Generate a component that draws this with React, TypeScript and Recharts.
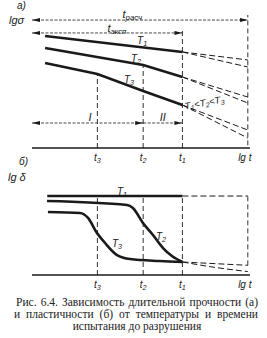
import React from 'react';
import { LineChart, Line, XAxis, YAxis, ReferenceLine, ReferenceDot } from 'recharts';

// lg t positions of t3, t2, t1 and t_расч (arbitrary units, domain 0..10)
const timeTicks = [3.0, 5.1, 6.9, 9.9];
const timeTickNames: [string, string][] = [['t', '3'], ['t', '2'], ['t', '1'], ['lg t', '']];

// а) lg σ against lg t, tested part (up to t1)
const strengthT1 = [{ x: 0.6, y: 8.42 }, { x: 6.9, y: 7.22 }];
const strengthT2 = [{ x: 0.6, y: 7.52 }, { x: 5.1, y: 6.24 }, { x: 6.9, y: 5.34 }];
const strengthT3 = [{ x: 0.6, y: 6.39 }, { x: 3.0, y: 5.56 }, { x: 5.1, y: 4.29 }, { x: 6.9, y: 3.23 }];
// extrapolation t1 -> t_расч, two variants per curve
const strengthExtrap = [
    [{ x: 6.9, y: 7.22 }, { x: 9.9, y: 6.62 }],
    [{ x: 6.9, y: 7.22 }, { x: 9.9, y: 6.09 }],
    [{ x: 6.9, y: 5.34 }, { x: 9.9, y: 3.83 }],
    [{ x: 6.9, y: 5.34 }, { x: 9.9, y: 3.38 }],
    [{ x: 6.9, y: 3.23 }, { x: 9.9, y: 1.35 }],
    [{ x: 6.9, y: 3.23 }, { x: 9.9, y: 0.75 }],
];

// б) lg δ against lg t
const plastT1 = [{ x: 0.7, y: 8.14 }, { x: 6.9, y: 8.14 }];
const plastT2 = [
    { x: 0.69, y: 7.63 }, { x: 4.36, y: 7.22 }, { x: 4.63, y: 6.91 }, { x: 5.09, y: 5.36 },
    { x: 5.55, y: 4.12 }, { x: 6.01, y: 2.78 }, { x: 6.42, y: 1.96 }, { x: 6.9, y: 1.34 },
];
const plastT3 = [
    { x: 0.73, y: 6.49 }, { x: 2.2, y: 6.39 }, { x: 2.57, y: 5.88 }, { x: 2.98, y: 4.33 },
    { x: 3.35, y: 3.3 }, { x: 3.9, y: 2.06 }, { x: 4.5, y: 1.65 }, { x: 5.87, y: 1.44 }, { x: 6.9, y: 1.34 },
];
const plastExtrap = [
    [{ x: 6.9, y: 8.14 }, { x: 9.9, y: 8.14 }],
    [{ x: 6.9, y: 1.34 }, { x: 9.9, y: 1.0 }],
    [{ x: 6.9, y: 1.34 }, { x: 8.2, y: 0.85 }, { x: 9.9, y: 0.35 }],
];

const captionLines = [
    'Рис. 6.4. Зависимость длительной прочности (а)',
    'и пластичности (б) от температуры и времени',
    'испытания до разрушения',
];

const INK = '#1a1a1a';
const LABEL_FONT = 'Liberation Sans, Arial, sans-serif';

type Seg = [string, boolean];

const renderSegs = (segs: Seg[], size: number) => {
    let low = false;
    return segs.map(([s, sub], i) => {
        let dy: number | undefined;
        if (sub && !low) { dy = size * 0.3; low = true; }
        else if (!sub && low) { dy = -size * 0.3; low = false; }
        return (
            <tspan key={i} dy={dy} fontSize={sub ? size * 0.72 : size}>{s}</tspan>
        );
    });
};

const textShape = (segs: Seg[], size = 10, rotate = 0) => (p: any) => (
    <text
        x={p.cx}
        y={p.cy}
        textAnchor="middle"
        dominantBaseline="central"
        fontFamily={LABEL_FONT}
        fontStyle="italic"
        fontSize={size}
        fill={INK}
        transform={rotate ? `rotate(${rotate} ${p.cx} ${p.cy})` : undefined}
    >
        {renderSegs(segs, size)}
    </text>
);

const TimeTick = (props: any) => {
    const { x, y, payload } = props;
    const i = timeTicks.indexOf(payload.value);
    const [main, sub] = timeTickNames[i] || ['', ''];
    const segs: Seg[] = sub ? [[main, false], [sub, true]] : [[main, false]];
    return (
        <text
            x={sub ? x : x - 3}
            y={y + 9}
            textAnchor="middle"
            dominantBaseline="central"
            fontFamily={LABEL_FONT}
            fontStyle="italic"
            fontSize={10}
            fill={INK}
        >
            {renderSegs(segs, 10)}
        </text>
    );
};

const arrowShape = (start: boolean, end: boolean) => (p: any) => (
    <line
        x1={p.x1}
        y1={p.y1}
        x2={p.x2}
        y2={p.y2}
        stroke={INK}
        strokeWidth={0.8}
        strokeDasharray="3 1.5"
        markerStart={start ? 'url(#arrowStart)' : undefined}
        markerEnd={end ? 'url(#arrowEnd)' : undefined}
    />
);

const dashedV = { stroke: INK, strokeWidth: 0.9, strokeDasharray: '5 3' };
const solid = { stroke: INK, strokeWidth: 2.6, dot: false, isAnimationActive: false, type: 'linear' as const };
const dashed = { stroke: INK, strokeWidth: 1, strokeDasharray: '6 3', dot: false, isAnimationActive: false };

const axisCommon = {
    type: 'number' as const,
    domain: [0, 10],
    allowDataOverflow: true,
    axisLine: { stroke: INK, strokeWidth: 1.6 },
    tickLine: false,
    tickSize: 0,
    tickMargin: 0,
};

const App: React.FC = () => {
    return (
        <div style={{ position: 'absolute', left: 0, top: 0, width: 267, height: 338, background: '#fff' }}>
            <svg width={0} height={0} style={{ position: 'absolute' }}>
                <defs>
                    <marker id="arrowEnd" viewBox="0 0 8 4" refX="8" refY="2" markerWidth="8" markerHeight="4" markerUnits="userSpaceOnUse" orient="auto">
                        <path d="M0,0 L8,2 L0,4 Z" fill={INK} />
                    </marker>
                    <marker id="arrowStart" viewBox="0 0 8 4" refX="0" refY="2" markerWidth="8" markerHeight="4" markerUnits="userSpaceOnUse" orient="auto">
                        <path d="M8,0 L0,2 L8,4 Z" fill={INK} />
                    </marker>
                </defs>
            </svg>

            {/* а) */}
            <div style={{ position: 'absolute', left: 0, top: 0 }}>
                <LineChart width={267} height={165} margin={{ top: 15, right: 17, bottom: 0, left: 32 }}>
                    <XAxis {...axisCommon} dataKey="x" height={17} ticks={timeTicks} tick={<TimeTick />} interval={0} />
                    <YAxis {...axisCommon} dataKey="y" width={0} tick={false} />
                    <ReferenceLine segment={[{ x: 3.0, y: 0 }, { x: 3.0, y: 5.56 }]} {...dashedV} />
                    <ReferenceLine segment={[{ x: 5.1, y: 0 }, { x: 5.1, y: 6.24 }]} {...dashedV} />
                    <ReferenceLine segment={[{ x: 6.9, y: 0 }, { x: 6.9, y: 8.9 }]} {...dashedV} />
                    <ReferenceLine segment={[{ x: 9.9, y: 0.2 }, { x: 9.9, y: 10 }]} {...dashedV} />
                    <ReferenceLine segment={[{ x: 0, y: 9.62 }, { x: 9.9, y: 9.62 }]} shape={arrowShape(true, true)} />
                    <ReferenceLine segment={[{ x: 0, y: 8.65 }, { x: 6.9, y: 8.65 }]} shape={arrowShape(true, true)} />
                    <ReferenceLine segment={[{ x: 0, y: 1.88 }, { x: 5.1, y: 1.88 }]} shape={arrowShape(true, true)} />
                    <ReferenceLine segment={[{ x: 5.1, y: 1.88 }, { x: 6.9, y: 1.88 }]} shape={arrowShape(false, true)} />
                    {strengthExtrap.map((d, i) => (
                        <Line key={`se${i}`} data={d} dataKey="y" {...dashed} type="linear" />
                    ))}
                    <Line data={strengthT1} dataKey="y" {...solid} />
                    <Line data={strengthT2} dataKey="y" {...solid} />
                    <Line data={strengthT3} dataKey="y" {...solid} />
                    <ReferenceDot x={4.6} y={10.1} r={1} ifOverflow="visible" shape={textShape([['t', false], ['расч', true]], 11)} />
                    <ReferenceDot x={3.9} y={9.05} r={1} ifOverflow="visible" shape={textShape([['t', false], ['эксп', true]], 11)} />
                    <ReferenceDot x={5.05} y={8.12} r={1} shape={textShape([['T', false], ['1', true]])} />
                    <ReferenceDot x={4.77} y={6.77} r={1} shape={textShape([['T', false], ['2', true]])} />
                    <ReferenceDot x={4.45} y={5.19} r={1} shape={textShape([['T', false], ['3', true]])} />
                    <ReferenceDot x={7.9} y={3.46} r={1} shape={textShape([['T', false], ['1', true], ['<T', false], ['2', true], ['<T', false], ['3', true]], 9.5, -10)} />
                    <ReferenceDot x={2.66} y={2.35} r={1} shape={textShape([['I', false]], 11)} />
                    <ReferenceDot x={6.0} y={2.35} r={1} shape={textShape([['II', false]], 11)} />
                </LineChart>
            </div>

            {/* б) */}
            <div style={{ position: 'absolute', left: 0, top: 165 }}>
                <LineChart width={267} height={125} margin={{ top: 13, right: 17, bottom: 0, left: 32 }}>
                    <XAxis {...axisCommon} dataKey="x" height={15} ticks={timeTicks} tick={<TimeTick />} interval={0} />
                    <YAxis {...axisCommon} dataKey="y" width={0} tick={false} axisLine={{ stroke: INK, strokeWidth: 2 }} />
                    <ReferenceLine segment={[{ x: 3.0, y: 0 }, { x: 3.0, y: 8.14 }]} {...dashedV} />
                    <ReferenceLine segment={[{ x: 5.1, y: 0 }, { x: 5.1, y: 8.14 }]} {...dashedV} />
                    <ReferenceLine segment={[{ x: 6.9, y: 0 }, { x: 6.9, y: 8.14 }]} {...dashedV} />
                    <ReferenceLine segment={[{ x: 9.9, y: 1.0 }, { x: 9.9, y: 8.14 }]} {...dashedV} />
                    {plastExtrap.map((d, i) => (
                        <Line key={`pe${i}`} data={d} dataKey="y" {...dashed} type="monotone" />
                    ))}
                    <Line data={plastT1} dataKey="y" {...solid} />
                    <Line data={plastT2} dataKey="y" {...solid} type="monotone" />
                    <Line data={plastT3} dataKey="y" {...solid} type="monotone" />
                    <ReferenceDot x={4.13} y={8.7} r={1} shape={textShape([['T', false], ['1', true]])} />
                    <ReferenceDot x={5.92} y={4.02} r={1} shape={textShape([['T', false], ['2', true]])} />
                    <ReferenceDot x={3.9} y={3.3} r={1} shape={textShape([['T', false], ['3', true]])} />
                </LineChart>
            </div>

            {/* panel letters and axis names */}
            <div style={{ position: 'absolute', left: 17, top: 0, font: `italic 10px ${LABEL_FONT}`, color: INK }}>а)</div>
            <div style={{ position: 'absolute', left: 9, top: 14, font: `italic 11px ${LABEL_FONT}`, color: INK }}>lgσ</div>
            <div style={{ position: 'absolute', left: 19, top: 156, font: `italic 10px ${LABEL_FONT}`, color: INK }}>б)</div>
            <div style={{ position: 'absolute', left: 8, top: 171, font: `italic 11px ${LABEL_FONT}`, color: INK }}>lg δ</div>

            {/* caption */}
            <div style={{ position: 'absolute', left: 16, top: 296, width: 242, fontFamily: "'Liberation Serif', 'DejaVu Serif', serif", fontSize: 11.5, color: '#222', lineHeight: '12px' }}>
                <div style={{ textAlign: 'justify', textAlignLast: 'justify', whiteSpace: 'nowrap' }}>{captionLines[0]}</div>
                <div style={{ textAlign: 'justify', textAlignLast: 'justify', whiteSpace: 'nowrap', marginLeft: -2 }}>{captionLines[1]}</div>
                <div style={{ textAlign: 'center' }}>{captionLines[2]}</div>
            </div>
        </div>
    );
};

export default App;
